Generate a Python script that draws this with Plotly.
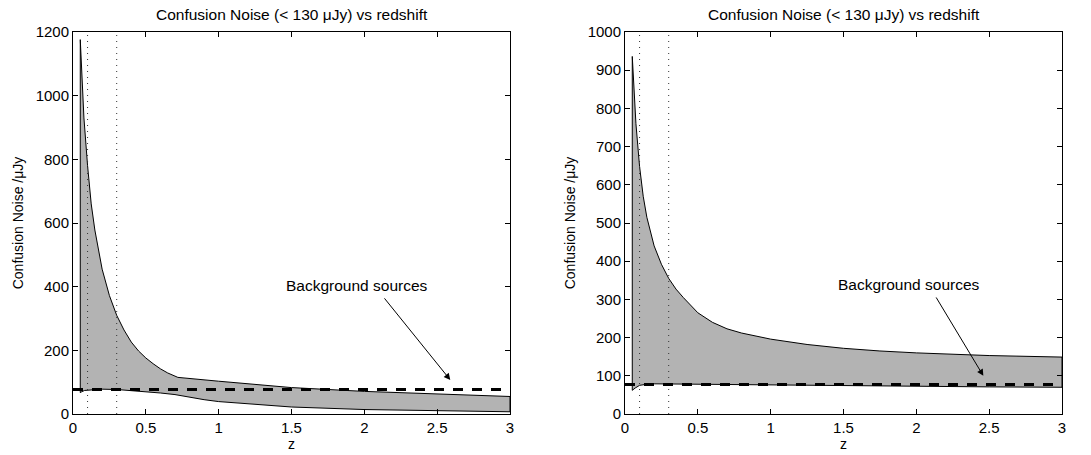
import plotly.graph_objects as go

# ---- data ----
z_up_L = [0.05, 0.06, 0.075, 0.1, 0.125, 0.15, 0.2, 0.25, 0.3, 0.35, 0.4, 0.45, 0.5, 0.55,
          0.6, 0.65, 0.7, 0.72, 1.0, 1.5, 2.0, 2.5, 3.0]
up_L = [1176, 1060, 930, 780, 660, 578, 455, 372, 310, 264, 226, 198, 176, 158,
        142, 129, 118, 115, 103, 83, 71, 62, 55]
z_lo_L = [0.05, 0.06, 0.08, 0.1, 0.2, 0.3, 0.4, 0.5, 0.6, 0.7, 0.8, 0.9, 1.0, 1.25, 1.5, 2.0, 2.5, 3.0]
lo_L = [67, 70, 74, 76, 78, 77, 74, 70, 66, 61, 53, 45, 39, 30, 22, 14, 10, 7]

z_up_R = [0.05, 0.075, 0.1, 0.125, 0.15, 0.2, 0.25, 0.3, 0.35, 0.4, 0.5, 0.6, 0.7, 0.8,
          1.0, 1.25, 1.5, 1.75, 2.0, 2.5, 3.0]
up_R = [936, 760, 648, 570, 515, 440, 392, 355, 327, 305, 265, 240, 223, 212,
        196, 182, 172, 165, 160, 153, 149]
z_lo_R = [0.05, 0.07, 0.1, 0.15, 0.2, 0.3, 0.5, 1.0, 1.5, 2.0, 2.5, 3.0]
lo_R = [62, 68, 75, 78, 79, 80, 79, 76.5, 75, 73, 71, 70]

background_level = 77
dotted_z = [0.1, 0.3]
title_text = "Confusion Noise (< 130 μJy) vs redshift"
ylabel = "Confusion Noise /μJy"
xlabel = "z"

FONT = "Liberation Sans, Arial, Helvetica, sans-serif"

fig = go.Figure()

def add_panel(zu, u, zl, l, ymax, xa, ya, arrow_tail, arrow_head, text_pos):
    xs = zu + zl[::-1] + [zu[0]]
    ys = u + l[::-1] + [u[0]]
    fig.add_trace(go.Scatter(x=xs, y=ys, fill="toself", fillcolor="#b3b3b3",
                             line=dict(color="black", width=1), mode="lines",
                             xaxis=xa, yaxis=ya, showlegend=False, hoverinfo="skip"))
    for dz in dotted_z:
        fig.add_trace(go.Scatter(x=[dz, dz], y=[0, ymax], mode="lines",
                                 line=dict(color="#333333", width=1, dash="1px,5px"),
                                 xaxis=xa, yaxis=ya, showlegend=False, hoverinfo="skip"))
    fig.add_trace(go.Scatter(x=[0, 3], y=[background_level, background_level], mode="lines",
                             line=dict(color="black", width=3, dash="10px,9px"),
                             xaxis=xa, yaxis=ya, showlegend=False, hoverinfo="skip"))
    fig.add_annotation(x=arrow_head[0], y=arrow_head[1], ax=arrow_tail[0], ay=arrow_tail[1],
                       xref=xa, yref=ya, axref=xa, ayref=ya, showarrow=True,
                       arrowhead=2, arrowsize=1.3, arrowwidth=1, arrowcolor="black", text="")
    fig.add_annotation(x=text_pos[0], y=text_pos[1], xref=xa, yref=ya, text="Background sources",
                       showarrow=False, xanchor="center", yanchor="middle",
                       font=dict(family=FONT, size=15.5, color="black"))

add_panel(z_up_L, up_L, z_lo_L, lo_L, 1200, "x", "y", (2.13, 368), (2.59, 107), (1.95, 405))
add_panel(z_up_R, up_R, z_lo_R, lo_R, 1000, "x2", "y2", (2.13, 309), (2.46, 100), (1.95, 338))

axis_common = dict(showline=True, linecolor="black", linewidth=1, mirror="ticks",
                   ticks="inside", ticklen=5, tickcolor="black", showgrid=False, zeroline=False,
                   automargin=False,
                   tickfont=dict(family=FONT, size=15, color="black"))
tfont = dict(family=FONT, size=14, color="black")

yd = [1 - 414 / 455, 1 - 32 / 455]
fig.update_layout(
    width=1091, height=455, margin=dict(l=0, r=0, t=0, b=0),
    plot_bgcolor="white", paper_bgcolor="white",
    xaxis=dict(domain=[73 / 1091, 510 / 1091], range=[0, 3], dtick=0.5, anchor="y",
               title=dict(text=xlabel, standoff=0, font=tfont), **axis_common),
    yaxis=dict(domain=yd, range=[0, 1200], dtick=200, anchor="x",
               title=dict(text=ylabel, standoff=8, font=tfont), **axis_common),
    xaxis2=dict(domain=[625 / 1091, 1062 / 1091], range=[0, 3], dtick=0.5, anchor="y2",
                title=dict(text=xlabel, standoff=0, font=tfont), **axis_common),
    yaxis2=dict(domain=yd, range=[0, 1000], dtick=100, anchor="x2",
                title=dict(text=ylabel, standoff=8, font=tfont), **axis_common),
)

for xc in [(73 + 510) / 2 / 1091, (625 + 1062) / 2 / 1091]:
    fig.add_annotation(x=xc, y=1 - 14 / 455, xref="paper", yref="paper", text=title_text,
                       showarrow=False, xanchor="center", yanchor="middle",
                       font=dict(family=FONT, size=15.5, color="black"))

fig.write_html("out.html", post_script="document.body.style.margin='0px';",
               config={"displayModeBar": False})
